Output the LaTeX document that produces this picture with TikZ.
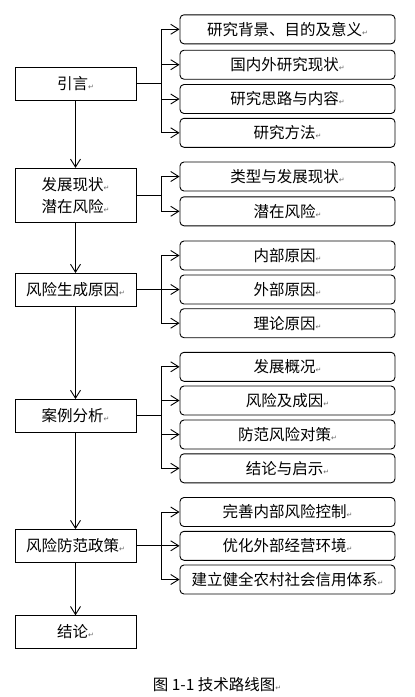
\documentclass[tikz,border=0pt]{standalone}
\usepackage{fontspec}
\setmainfont{Noto Sans CJK SC}
\newfontfamily\retfont{DejaVu Sans}
\usetikzlibrary{arrows.meta}
\newcommand{\parmark}{{\retfont\fontsize{7}{7}\selectfont\color{black!60}↵}}
\begin{document}
\begin{tikzpicture}[x=1pt,y=-1pt,
  mainbox/.style={draw,line width=0.9pt,minimum width=121pt,minimum height=32.5pt,inner sep=1pt,align=center,font=\fontsize{15.5}{22}\selectfont},
  subbox/.style={draw,line width=0.9pt,rounded corners=4pt,minimum width=215pt,minimum height=29pt,inner sep=1pt,font=\fontsize{15.5}{19}\selectfont},
  arr/.style={-{Straight Barb[length=8pt,width=10pt]},line width=0.9pt},
  ln/.style={line width=0.9pt}]
\useasboundingbox (0,0) rectangle (415,697);
\node[mainbox] (m1) at (75.5,83.8) {引言\parmark};
\node[mainbox,minimum height=54.4pt] (m2) at (75.5,195.5) {发展现状\parmark\\潜在风险\parmark};
\node[mainbox] (m3) at (75.5,289.7) {风险生成原因\parmark};
\node[mainbox] (m4) at (75.5,415.7) {案例分析\parmark};
\node[mainbox] (m5) at (75.5,545.8) {风险防范政策\parmark};
\node[mainbox] (m6) at (75.5,632.0) {结论\parmark};
\node[subbox] (m1s1) at (287.5,29.3) {研究背景、目的及意义\parmark};
\node[subbox] (m1s2) at (287.5,64.7) {国内外研究现状\parmark};
\node[subbox] (m1s3) at (287.5,99.0) {研究思路与内容\parmark};
\node[subbox] (m1s4) at (287.5,132.8) {研究方法\parmark};
\node[subbox] (m2s1) at (287.5,176.5) {类型与发展现状\parmark};
\node[subbox] (m2s2) at (287.5,211.3) {潜在风险\parmark};
\node[subbox] (m3s1) at (287.5,255.5) {内部原因\parmark};
\node[subbox] (m3s2) at (287.5,289.5) {外部原因\parmark};
\node[subbox] (m3s3) at (287.5,323.2) {理论原因\parmark};
\node[subbox] (m4s1) at (287.5,366.8) {发展概况\parmark};
\node[subbox] (m4s2) at (287.5,400.5) {风险及成因\parmark};
\node[subbox] (m4s3) at (287.5,434.5) {防范风险对策\parmark};
\node[subbox] (m4s4) at (287.5,468.3) {结论与启示\parmark};
\node[subbox] (m5s1) at (287.5,512.0) {完善内部风险控制\parmark};
\node[subbox] (m5s2) at (287.5,545.8) {优化外部经营环境\parmark};
\node[subbox] (m5s3) at (287.5,579.5) {建立健全农村社会信用体系\parmark};
\node[inner sep=1pt,font=\fontsize{15.5}{19}\selectfont] (cap) at (217,685) {图 1-1 技术路线图\parmark};
\coordinate (b1) at (161,83.8);
\coordinate (b2) at (161,195.5);
\coordinate (b3) at (161,289.7);
\coordinate (b4) at (161,415.7);
\coordinate (b5) at (161,545.8);
% main column
\draw[arr] (m1) -- (m2);
\draw[arr] (m2) -- (m3);
\draw[arr] (m3) -- (m4);
\draw[arr] (m4) -- (m5);
\draw[arr] (m5) -- (m6);
% branches
\draw[ln] (m1) -- (b1);
\draw[ln] (b1 |- m1s1) -- (b1 |- m1s4);
\draw[arr] (b1 |- m1s1) -- (m1s1);
\draw[arr] (b1 |- m1s2) -- (m1s2);
\draw[arr] (b1 |- m1s3) -- (m1s3);
\draw[arr] (b1 |- m1s4) -- (m1s4);
\draw[ln] (m2) -- (b2);
\draw[ln] (b2 |- m2s1) -- (b2 |- m2s2);
\draw[arr] (b2 |- m2s1) -- (m2s1);
\draw[arr] (b2 |- m2s2) -- (m2s2);
\draw[ln] (m3) -- (b3);
\draw[ln] (b3 |- m3s1) -- (b3 |- m3s3);
\draw[arr] (b3 |- m3s1) -- (m3s1);
\draw[arr] (b3 |- m3s2) -- (m3s2);
\draw[arr] (b3 |- m3s3) -- (m3s3);
\draw[ln] (m4) -- (b4);
\draw[ln] (b4 |- m4s1) -- (b4 |- m4s4);
\draw[arr] (b4 |- m4s1) -- (m4s1);
\draw[arr] (b4 |- m4s2) -- (m4s2);
\draw[arr] (b4 |- m4s3) -- (m4s3);
\draw[arr] (b4 |- m4s4) -- (m4s4);
\draw[ln] (m5) -- (b5);
\draw[ln] (b5 |- m5s1) -- (b5 |- m5s3);
\draw[arr] (b5 |- m5s1) -- (m5s1);
\draw[arr] (b5 |- m5s2) -- (m5s2);
\draw[arr] (b5 |- m5s3) -- (m5s3);
\end{tikzpicture}
\end{document}
